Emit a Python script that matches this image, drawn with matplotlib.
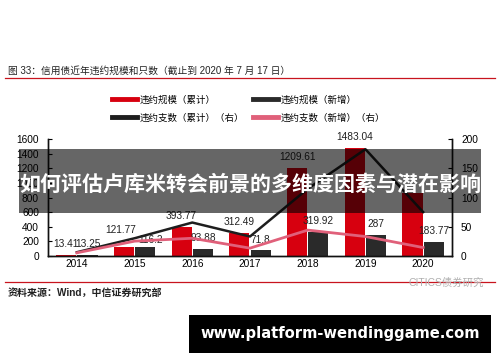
import matplotlib
matplotlib.use("Agg")
import matplotlib.pyplot as plt
import numpy as np
from matplotlib.lines import Line2D
from matplotlib.patches import Rectangle

plt.rcParams['font.family'] = ['Liberation Sans', 'Noto Sans CJK SC', 'DejaVu Sans']

# ---------------------------------------------------------------------------
# data
# ---------------------------------------------------------------------------
years = ['2014', '2015', '2016', '2017', '2018', '2019', '2020']
scale_cum = [13.41, 121.77, 393.77, 312.49, 1209.61, 1483.04, 860]     # 违约规模（累计）
scale_new = [13.25, 116.2, 93.88, 71.8, 319.92, 287, 183.77]           # 违约规模（新增）
count_cum = [6, 30, 57, 33, 115, 183, 75]                               # 违约支数（累计）
count_new = [5, 25, 30, 13, 44, 33, 14]                                 # 违约支数（新增）
label_cum = ['13.41', '121.77', '393.77', '312.49', '1209.61', '1483.04', None]
label_new = ['13.25', '116.2', '93.88', '71.8', '319.92', '287', '183.77']

# hand-placed labels in the source chart (offsets in points)
NUDGE = {'121.77': (-2, 4.5), '116.2': (4, -2.5)}

RED = '#d7000f'
DARK = '#2a2a2a'
LINE_DARK = '#1e1e1e'
PINK = '#e0607a'
FS = 7.3

fig = plt.figure(figsize=(5.0, 3.62), dpi=100)
ax = fig.add_axes([0.096, 0.2936, 0.808, 0.3216])
ax2 = ax.twinx()

x = np.arange(len(years))
w = 0.35
off = 0.185
ax.bar(x - off, scale_cum, w, color=RED, zorder=2)
ax.bar(x + off, scale_new, w, color=DARK, zorder=2)


def bar_label(xi, v, s):
    dx, dy = NUDGE.get(s, (0, 0))
    ax.annotate(s, (xi, v), xytext=(dx, 4.3 + dy), textcoords='offset points',
                ha='center', va='bottom', fontsize=FS, color='#222222')


for xi, v, s in zip(x, scale_cum, label_cum):
    if s:
        bar_label(xi - off, v, s)
for xi, v, s in zip(x, scale_new, label_new):
    bar_label(xi + off, v, s)

ax2.plot(x, count_cum, color=LINE_DARK, lw=1.8, zorder=3)
ax2.plot(x, count_new, color=PINK, lw=2.0, zorder=3)

ax.set_xlim(-0.5, 6.5)
ax.set_ylim(0, 1600)
ax.set_yticks(range(0, 1601, 200))
ax2.set_ylim(0, 200)
ax2.set_yticks(range(0, 201, 50))
ax.set_xticks(x)
ax.set_xticklabels(years)

for a in (ax, ax2):
    a.spines['top'].set_visible(False)
    for sp in ('left', 'right', 'bottom'):
        a.spines[sp].set_linewidth(1.0)
        a.spines[sp].set_color('#111111')
ax.tick_params(axis='y', direction='in', length=3, pad=6.5, labelsize=FS)
ax2.tick_params(axis='y', direction='in', length=3, pad=6.5, labelsize=FS)
ax.tick_params(axis='x', length=0, pad=2.5, labelsize=FS)

# legend
handles = [Line2D([], [], color=RED, lw=3.5),
           Line2D([], [], color=LINE_DARK, lw=3.5),
           Line2D([], [], color=DARK, lw=3.5),
           Line2D([], [], color=PINK, lw=3.5)]
labels = ['违约规模（累计）', '违约支数（累计）（右）',
          '违约规模（新增）', '违约支数（新增）（右）']
fig.legend(handles, labels, ncol=2, loc='upper left',
           bbox_to_anchor=(0.224, 0.737), frameon=False, fontsize=6.8,
           handlelength=2.6, handletextpad=0.3, columnspacing=1.0,
           labelspacing=0.95, borderaxespad=0, borderpad=0)

# title + rules
fig.text(0.016, 0.805, '图 33：信用债近年违约规模和只数（截止到 2020 年 7 月 17 日）',
         fontsize=7, color='#222222', va='center', ha='left')
fig.add_artist(Line2D([0.01, 0.99], [0.784, 0.784], color='#c8141e', lw=0.9))
fig.add_artist(Line2D([0.01, 0.99], [0.22, 0.22], color='#c8141e', lw=0.9))
fig.text(0.016, 0.191, '资料来源：Wind，中信证券研究部', fontsize=7.2,
         fontweight='bold', color='#222222', va='center', ha='left')
fig.text(0.968, 0.218, 'CITICS债券研究', fontsize=7.5, color='#b0b0b0',
         va='center', ha='right')

# overlay banner
fig.add_artist(Rectangle((0.038, 0.4116), 0.924, 0.1768, transform=fig.transFigure,
                         facecolor='black', alpha=0.6, edgecolor='none', zorder=10))
fig.text(0.5, 0.492, '如何评估卢库米转会前景的多维度因素与潜在影响',
         fontsize=15.1, fontweight='bold', color='white', ha='center', va='center',
         family=['Noto Sans CJK SC'], zorder=11)

# bottom url box
fig.add_artist(Rectangle((0.378, 0.0257), 0.604, 0.104, transform=fig.transFigure,
                         facecolor='black', edgecolor='none', zorder=10))
fig.text(0.68, 0.078, 'www.platform-wendinggame.com', fontsize=10.6,
         fontweight='bold', color='white', ha='center', va='center',
         family=['DejaVu Sans'], zorder=11)

fig.savefig('out.png', dpi=100, facecolor='white')
